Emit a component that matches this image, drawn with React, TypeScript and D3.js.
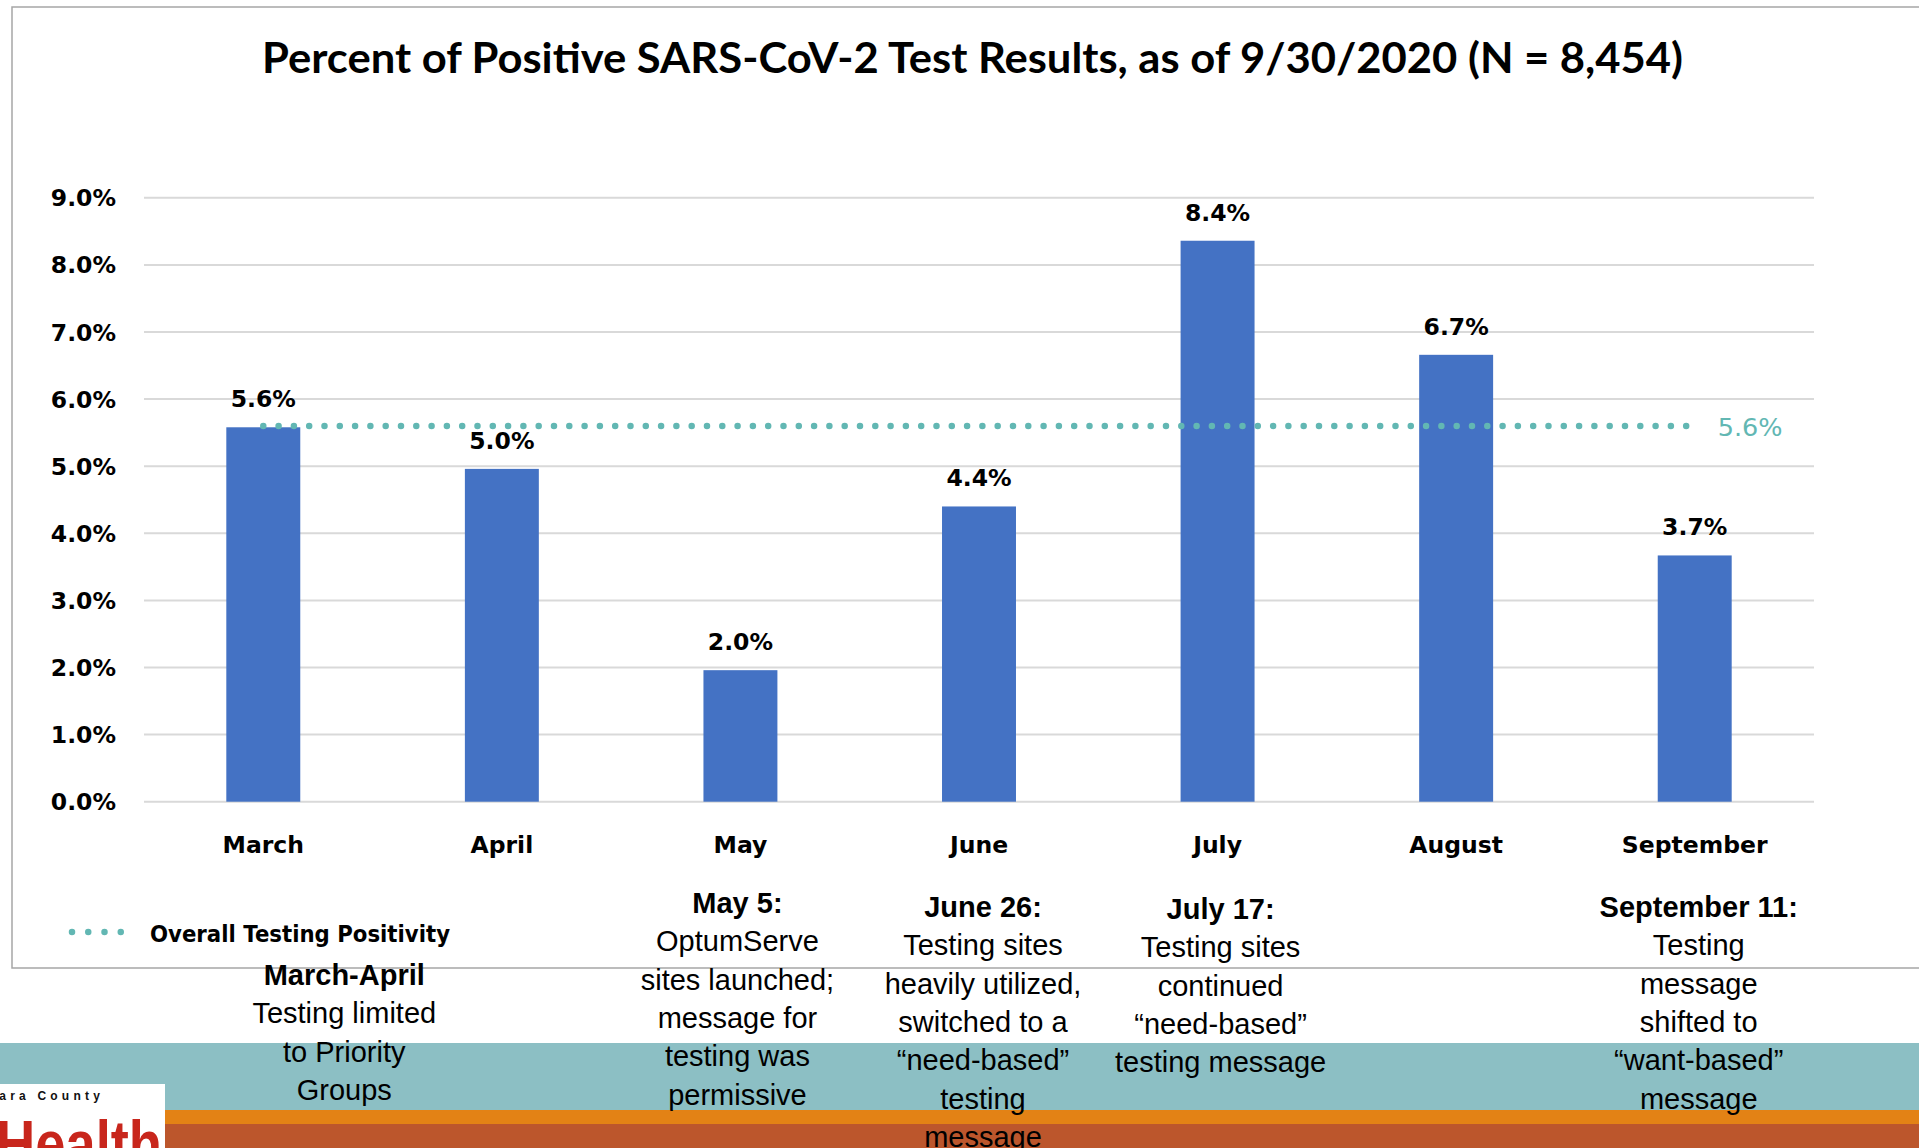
import React from "react";
import * as d3 from "d3";

const months = ["March", "April", "May", "June", "July", "August", "September"];
const positivity = [5.58, 4.96, 1.96, 4.4, 8.36, 6.66, 3.67];
const overallPositivity = 5.6;
const yTickValues = [0, 1, 2, 3, 4, 5, 6, 7, 8, 9];
const titleText = "Percent of Positive SARS-CoV-2 Test Results, as of 9/30/2020 (N = 8,454)";
const legendLabel = "Overall Testing Positivity";

const annotationAnchors = ["March", "May", "June", "July", "September"];
const annotationOffsets = [81, -3, 4, 3, 4];
const annotationHeadings = ["March-April", "May 5:", "June 26:", "July 17:", "September 11:"];
const annotationHeadingBaselines = [985, 913, 917, 919, 917];
const annotationBodies = [
  ["Testing limited", "to Priority", "Groups"],
  ["OptumServe", "sites launched;", "message for", "testing was", "permissive"],
  ["Testing sites", "heavily utilized,", "switched to a", "\u201Cneed-based\u201D", "testing", "message"],
  ["Testing sites", "continued", "\u201Cneed-based\u201D", "testing message"],
  ["Testing", "message", "shifted to", "\u201Cwant-based\u201D", "message"],
];

const W = 1919;
const H = 1148;

export default function App() {
  const x = d3
    .scaleBand<string>()
    .domain(months)
    .range([144, 1814])
    .paddingInner(0.69)
    .paddingOuter(0.345);
  const y = d3.scaleLinear().domain([0, 9]).range([801.7, 197.8]);
  const fmt = d3.format(".1f");
  const center = (m: string) => (x(m) as number) + x.bandwidth() / 2;

  const lineGen = d3
    .line<string>()
    .x((m) => center(m))
    .y(() => y(overallPositivity));

  const axisFont = "'DejaVu Sans', Verdana, sans-serif";
  const annFont = "'Liberation Sans', Arial, sans-serif";
  const lineH = 38.3;

  return (
    <div style={{ position: "fixed", left: 0, top: 0, width: W, height: H, overflow: "hidden", background: "#fff" }}>
      <svg width={W} height={H} viewBox={`0 0 ${W} ${H}`} style={{ display: "block" }}>
        <rect x={0} y={0} width={W} height={H} fill="#ffffff" />
        {/* chart frame */}
        <rect x={12} y={7} width={W + 20} height={961} fill="#ffffff" stroke="#A6A6A6" strokeWidth={1.5} />

        {/* title */}
        <text
          x={262}
          y={73}
          textLength={1421}
          lengthAdjust="spacingAndGlyphs"
          fontFamily="Lato, 'Open Sans', sans-serif"
          fontWeight={700}
          fontSize={42}
          fill="#000"
        >
          {titleText}
        </text>

        {/* gridlines + y tick labels */}
        {yTickValues.map((t) => (
          <g key={t}>
            <line x1={144} x2={1814} y1={y(t)} y2={y(t)} stroke="#D9D9D9" strokeWidth={2} />
            <text
              x={116}
              y={y(t) + 8.5}
              textAnchor="end"
              fontFamily={axisFont}
              fontWeight={700}
              fontSize={23.5}
              fill="#000"
            >
              {fmt(t)}%
            </text>
          </g>
        ))}

        {/* bars */}
        {months.map((m, i) => (
          <g key={m}>
            <rect
              x={x(m)}
              y={y(positivity[i])}
              width={x.bandwidth()}
              height={y(0) - y(positivity[i])}
              fill="#4472C4"
            />
            <text
              x={center(m)}
              y={y(positivity[i]) - 20}
              textAnchor="middle"
              fontFamily={axisFont}
              fontWeight={700}
              fontSize={23.5}
              fill="#000"
            >
              {fmt(positivity[i])}%
            </text>
            <text
              x={center(m)}
              y={853}
              textAnchor="middle"
              fontFamily={axisFont}
              fontWeight={700}
              fontSize={23.5}
              fill="#000"
            >
              {m}
            </text>
          </g>
        ))}

        {/* overall dotted line */}
        <path
          d={lineGen(months) as string}
          fill="none"
          stroke="#62B7B3"
          strokeWidth={6.5}
          strokeLinecap="round"
          strokeDasharray="0 15.3"
        />
        <text
          x={center(months[months.length - 1]) + 23}
          y={y(overallPositivity) + 10}
          fontFamily={axisFont}
          fontSize={25.5}
          fill="#62B7B3"
        >
          {fmt(overallPositivity)}%
        </text>

        {/* legend */}
        <line
          x1={72}
          x2={137}
          y1={932}
          y2={932}
          stroke="#62B7B3"
          strokeWidth={6.5}
          strokeLinecap="round"
          strokeDasharray="0 16.25"
        />
        <text
          x={150}
          y={942}
          textLength={300}
          lengthAdjust="spacingAndGlyphs"
          fontFamily={axisFont}
          fontWeight={700}
          fontSize={23}
          fill="#000"
        >
          {legendLabel}
        </text>

        {/* bottom bands */}
        <rect x={0} y={1043} width={W} height={67} fill="#8CBFC4" />
        <rect x={0} y={1110} width={W} height={14} fill="#E38215" />
        <rect x={0} y={1124} width={W} height={24} fill="#BC562C" />

        {/* logo */}
        <rect x={0} y={1084} width={165} height={64} fill="#ffffff" />
        <text
          x={104}
          y={1100}
          textAnchor="end"
          fontFamily={annFont}
          fontWeight={700}
          fontSize={12}
          letterSpacing={4.2}
          fill="#111"
        >
          Clara County
        </text>
        <text
          x={-4}
          y={1167}
          textLength={166}
          lengthAdjust="spacingAndGlyphs"
          fontFamily={annFont}
          fontWeight={700}
          fontSize={66}
          fill="#C8261C"
        >
          Health
        </text>

        {/* annotations */}
        {annotationAnchors.map((m, i) => {
          const cx = center(m) + annotationOffsets[i];
          const b = annotationHeadingBaselines[i];
          return (
            <g key={i} fontFamily={annFont} fill="#000" textAnchor="middle">
              <text x={cx} y={b} fontSize={29} fontWeight={700}>
                {annotationHeadings[i]}
              </text>
              {annotationBodies[i].map((ln, j) => (
                <text key={j} x={cx} y={b + (j + 1) * lineH} fontSize={29}>
                  {ln}
                </text>
              ))}
            </g>
          );
        })}
      </svg>
    </div>
  );
}
